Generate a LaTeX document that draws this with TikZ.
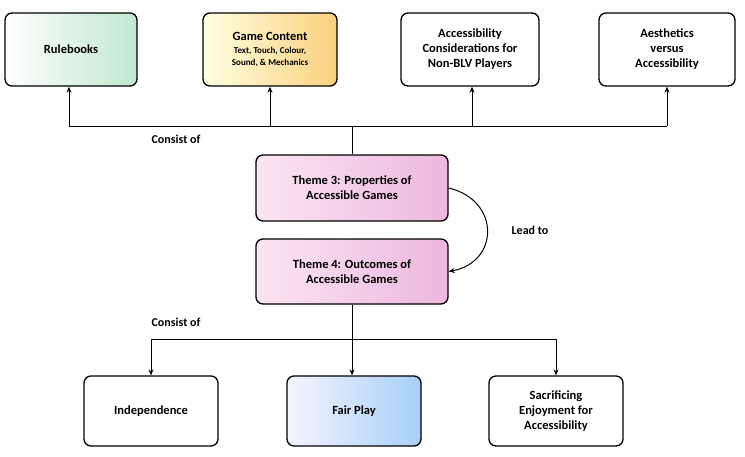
\documentclass[tikz,border=0pt]{standalone}
\usepackage{fontspec}
\setmainfont{Carlito}
\usetikzlibrary{arrows.meta}
\definecolor{gr}{HTML}{BFE8CF}
\definecolor{yl}{HTML}{FBD07E}
\definecolor{pk}{HTML}{EDB6DF}
\definecolor{pkl}{HTML}{FBE6F2}
\definecolor{bl}{HTML}{A6CFF8}
\begin{document}
\begin{tikzpicture}[x=1pt,y=-1pt,
 box/.style={draw=black,line width=1.3pt,rounded corners=7pt,align=center,font=\bfseries\fontsize{12.5}{15}\selectfont,inner sep=0pt},
 con/.style={line width=1pt},
 arr/.style={con,-{Stealth[length=6pt,width=5pt]}},
 lab/.style={font=\bfseries\fontsize{12}{14}\selectfont}]
\useasboundingbox (0,0) rectangle (745,456);
\node[box,minimum width=132pt,minimum height=73pt,left color=white,right color=gr] (rb) at (71,49.5) {Rulebooks};
\node[box,minimum width=134pt,minimum height=73pt,left color=yellow!12,right color=yl] (gc) at (270,49.5) {Game Content\\[-2pt]{\fontsize{9}{11}\selectfont Text, Touch, Colour,}\\[-3pt]{\fontsize{9}{11}\selectfont Sound, \& Mechanics}};
\node[box,minimum width=138pt,minimum height=73pt] (ac) at (470,49.5) {Accessibility\\Considerations for\\Non-BLV Players};
\node[box,minimum width=136pt,minimum height=73pt] (ae) at (667,49.5) {Aesthetics\\versus\\Accessibility};
\node[box,minimum width=192pt,minimum height=66pt,left color=pkl,right color=pk] (t3) at (352,188) {Theme 3: Properties of\\Accessible Games};
\node[box,minimum width=192pt,minimum height=65pt,left color=pkl,right color=pk] (t4) at (352,271.5) {Theme 4: Outcomes of\\Accessible Games};
\node[box,minimum width=134pt,minimum height=70pt] (in) at (151,411) {Independence};
\node[box,minimum width=134pt,minimum height=70pt,left color=blue!4,right color=bl] (fp) at (354,411) {Fair Play};
\node[box,minimum width=134pt,minimum height=70pt] (sa) at (556,411) {Sacrificing\\Enjoyment for\\Accessibility};
\coordinate (h1) at (69,126); \coordinate (h2) at (667,126);
\draw[con] (h1) -- (h2);
\draw[con] (t3.north) -- (t3.north |- h1);
\draw[arr] (h1) -- (rb.south -| h1);
\draw[arr] (270,126) -- (gc.south);
\draw[arr] (472,126) -- (ac.south -| 472,0);
\draw[arr] (h2) -- (ae.south);
\node[lab] (l1) at (176,139) {Consist of};
\draw[arr] (t3.east) .. controls (500,200) and (500,262) .. (t4.east);
\node[lab] (l2) at (530,230) {Lead to};
\coordinate (b1) at (151,339); \coordinate (b2) at (556,339);
\draw[con] (b1) -- (b2);
\draw[arr] (t4.south) -- (t4.south |- fp.north);
\draw[arr] (b1) -- (in.north);
\draw[arr] (b2) -- (sa.north);
\node[lab] (l3) at (176,322) {Consist of};
\end{tikzpicture}
\end{document}
